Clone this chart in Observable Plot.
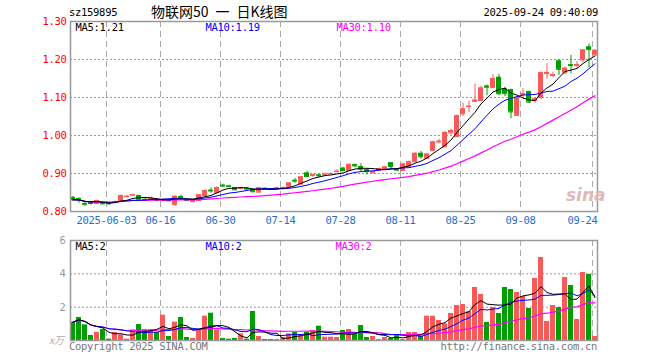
<!DOCTYPE html>
<html><head><meta charset="utf-8">
<script src="https://cdn.jsdelivr.net/npm/d3@7"></script>
<script src="https://cdn.jsdelivr.net/npm/@observablehq/plot@0.6"></script>
<style>
body{margin:0;background:#fff;}
#wrap{position:relative;width:660px;height:360px;overflow:hidden;background:#fff;}
.t{position:absolute;white-space:nowrap;font-family:"DejaVu Sans Mono",monospace;font-size:10.5px;letter-spacing:-0.3px;line-height:12px;}
.abs{position:absolute;left:0;}
</style></head>
<body><div id="wrap"></div>
<script>
const dates = ["05-23","05-26","05-27","05-28","05-29","05-30",
"06-03","06-04","06-05","06-06","06-09","06-10","06-11","06-12","06-13",
"06-16","06-17","06-18","06-19","06-20","06-23","06-24","06-25","06-26","06-27",
"06-30","07-01","07-02","07-03","07-04","07-07","07-08","07-09","07-10","07-11",
"07-14","07-15","07-16","07-17","07-18","07-21","07-22","07-23","07-24","07-25",
"07-28","07-29","07-30","07-31","08-01","08-04","08-05","08-06","08-07","08-08",
"08-11","08-12","08-13","08-14","08-15","08-18","08-19","08-20","08-21","08-22",
"08-25","08-26","08-27","08-28","08-29","09-01","09-02","09-03","09-04","09-05",
"09-08","09-09","09-10","09-11","09-12","09-15","09-16","09-17","09-18","09-19",
"09-22","09-23","09-24"];
const open = [.837,.834,.821,.823,.821,.822,.822,.824,.829,.839,.843,.842,.832,.833,.831,.829,.830,.818,.839,.831,.826,.829,.842,.856,.850,.869,.867,.863,.861,.861,.858,.851,.861,.859,.861,.861,.865,.882,.872,.901,.895,.896,.896,.899,.905,.914,.908,.923,.918,.910,.902,.908,.910,.928,.910,.908,.918,.931,.953,.940,.960,.983,.970,1.007,.997,1.057,1.076,1.090,1.092,1.130,1.126,1.153,1.122,1.120,1.053,1.108,1.115,1.092,1.100,1.163,1.158,1.196,1.165,1.186,1.184,1.199,1.233,1.212];
const high = [.840,.836,.824,.826,.830,.824,.823,.828,.843,.843,.846,.843,.834,.838,.833,.833,.832,.841,.843,.832,.831,.845,.857,.862,.865,.872,.869,.864,.864,.863,.859,.863,.862,.860,.864,.865,.876,.887,.892,.906,.898,.898,.901,.902,.910,.916,.925,.925,.926,.912,.906,.914,.918,.929,.912,.927,.933,.955,.958,.953,.985,.990,1.010,1.017,1.054,1.085,1.091,1.135,1.130,1.133,1.160,1.161,1.127,1.122,1.104,1.123,1.117,1.100,1.167,1.190,1.167,1.200,1.180,1.211,1.195,1.226,1.241,1.226];
const low = [.826,.822,.814,.817,.820,.818,.818,.822,.828,.836,.841,.828,.827,.830,.825,.827,.826,.813,.833,.826,.824,.828,.840,.848,.848,.864,.863,.855,.859,.857,.849,.848,.857,.856,.859,.860,.863,.874,.870,.890,.890,.890,.894,.897,.902,.905,.906,.915,.905,.896,.900,.907,.909,.912,.907,.906,.916,.929,.938,.938,.958,.978,.968,1.001,.995,1.050,1.060,1.088,1.090,1.105,1.124,1.105,1.102,1.044,1.050,1.098,1.084,1.085,1.095,1.148,1.152,1.158,1.160,1.162,1.177,1.192,1.178,1.210];
const close = [.831,.830,.819,.821,.829,.820,.820,.826,.842,.840,.844,.830,.830,.835,.829,.831,.828,.840,.837,.829,.829,.844,.855,.854,.863,.867,.866,.857,.862,.859,.852,.862,.859,.858,.862,.863,.875,.880,.891,.892,.897,.894,.898,.900,.906,.908,.924,.920,.911,.905,.905,.913,.917,.918,.909,.925,.931,.953,.944,.951,.983,.985,1.008,1.013,1.052,1.070,1.077,1.093,1.125,1.127,1.150,1.110,1.110,1.062,1.100,1.110,1.088,1.097,1.165,1.166,1.160,1.174,1.177,1.184,1.187,1.225,1.226,1.224];
const volume = [1.10,1.38,0.94,0.30,0.48,0.66,0.08,0.48,0.34,0.08,0.64,0.96,0.64,0.64,0.48,1.52,0.24,1.10,1.38,0.18,0.12,0.60,1.46,1.64,0.64,0.12,0.08,0.12,0.40,0.08,1.74,0.24,0.06,0.06,0.06,0.18,0.40,0.48,0.30,0.48,0.60,0.86,0.20,0.20,
0.18,0.60,0.66,0.36,0.90,0.18,0.24,0.06,0.18,0.12,0.36,0.06,0.48,0.48,0.24,1.46,1.46,1.20,1.00,1.62,2.10,2.16,1.74,3.18,2.76,1.08,1.98,1.62,3.18,3.06,2.88,2.64,1.92,3.72,4.98,1.14,2.10,1.98,3.78,3.30,1.26,4.08,3.96,0.24];
const xTicks = ["06-03","06-16","06-30","07-14","07-28","08-11","08-25","09-08","09-24"];
const priceTicks = [0.8,0.9,1.0,1.1,1.2,1.3];
const volTicks = [2,4,6];

const RED = "#f85a5a", GREEN = "#009e00";
function ma(arr, n){ return arr.map((_,i)=>{const s=arr.slice(Math.max(0,i-n+1),i+1); return d3.mean(s);}); }
const m5 = ma(close,5), m10 = ma(close,10), m30 = ma(close,30);
const v5 = ma(volume,5), v10 = ma(volume,10), v30 = ma(volume,30);
const rows = dates.map((d,i)=>({d,o:open[i],h:high[i],l:low[i],c:close[i],v:volume[i],up:close[i]>=open[i],
  m5:m5[i],m10:m10[i],m30:m30[i],v5:v5[i],v10:v10[i],v30:v30[i]}));
const col = d=>d.up?RED:GREEN;
const last = rows[rows.length-1];
const xOpt = {type:"band",domain:dates,paddingInner:0.17,paddingOuter:0,axis:null};
const style = {fontFamily:"DejaVu Sans Mono",fontSize:"10.5px",letterSpacing:"-0.3px",background:"transparent",overflow:"visible"};
const lastTick = xTicks[xTicks.length-1];
const fmtX = d=>d==="06-03"?"2025-06-03":d;

const main = Plot.plot({
  width:660,height:232,marginLeft:70,marginRight:63,marginTop:21,marginBottom:21,
  style, x:xOpt, y:{domain:[0.8,1.3],axis:null}, color:{type:"identity"},
  marks:[
    Plot.gridY([0.9,1.0,1.1,1.2],{stroke:"#999",strokeOpacity:1,strokeDasharray:"2,2"}),
    Plot.ruleX(xTicks,{x:d=>d,stroke:"#aaa",strokeDasharray:"6,4",dx:-2.5}),
    Plot.ruleX(rows,{x:"d",y1:"l",y2:"h",stroke:col}),
    Plot.barY(rows,{x:"d",y1:d=>Math.min(d.o,d.c),y2:d=>Math.max(d.o,d.c),fill:col}),
    Plot.tickY(rows,{x:"d",y:"c",stroke:col}),
    Plot.tickY(rows,{x:"d",y:"o",stroke:col}),
    Plot.lineY(rows,{x:"d",y:"m30",stroke:"#ff00ff",strokeWidth:1.2}),
    Plot.lineY(rows,{x:"d",y:"m10",stroke:"#0000ff",strokeWidth:1}),
    Plot.lineY(rows,{x:"d",y:"m5",stroke:"#000",strokeWidth:1}),
    Plot.axisY({ticks:priceTicks,tickFormat:d=>d.toFixed(2),tickSize:0,tickPadding:4,color:"#f00",label:null}),
    Plot.axisX({ticks:xTicks.slice(0,-1),tickFormat:fmtX,tickSize:0,tickPadding:5,color:"#1e6fd0",dx:-2.5,label:null}),
    Plot.axisX({ticks:[lastTick],tickFormat:fmtX,tickSize:0,tickPadding:5,color:"#1e6fd0",textAnchor:"end",dx:2.5,label:null}),
    Plot.frame({stroke:"#999",strokeWidth:1.5}),
    Plot.text([`MA5:${last.m5.toFixed(2)}`],{frameAnchor:"top-left",dx:5,dy:2,lineAnchor:"top",fill:"#000"}),
    Plot.text([`MA10:${last.m10.toFixed(2)}`],{frameAnchor:"top-left",dx:135,dy:2,lineAnchor:"top",fill:"#0000ff"}),
    Plot.text([`MA30:${last.m30.toFixed(2)}`],{frameAnchor:"top-left",dx:266,dy:2,lineAnchor:"top",fill:"#ff00ff"})
  ]
});

const vol = Plot.plot({
  width:660,height:128,marginLeft:70,marginRight:63,marginTop:8,marginBottom:20,
  style, x:xOpt, y:{domain:[0,6],axis:null}, color:{type:"identity"},
  marks:[
    Plot.gridY([2,4],{stroke:"#999",strokeOpacity:1,strokeDasharray:"2,2"}),
    Plot.ruleX(xTicks,{x:d=>d,stroke:"#aaa",strokeDasharray:"6,4",dx:-2.5}),
    Plot.barY(rows,{x:"d",y:"v",fill:col}),
    Plot.lineY(rows,{x:"d",y:"v30",stroke:"#ff00ff",strokeWidth:1.2}),
    Plot.lineY(rows,{x:"d",y:"v10",stroke:"#0000ff",strokeWidth:1}),
    Plot.lineY(rows,{x:"d",y:"v5",stroke:"#000",strokeWidth:1}),
    Plot.axisY({ticks:volTicks,tickFormat:d=>String(d),tickSize:0,tickPadding:5,color:"#999",label:null}),
    Plot.frame({stroke:"#999",strokeWidth:1.5}),
    Plot.text([`MA5:${Math.floor(last.v5)}`],{frameAnchor:"top-left",dx:5,dy:2,lineAnchor:"top",fill:"#000"}),
    Plot.text([`MA10:${Math.floor(last.v10)}`],{frameAnchor:"top-left",dx:135,dy:2,lineAnchor:"top",fill:"#0000ff"}),
    Plot.text([`MA30:${Math.floor(last.v30)}`],{frameAnchor:"top-left",dx:265,dy:2,lineAnchor:"top",fill:"#ff00ff"})
  ]
});

const wrap = document.getElementById("wrap");
main.classList.add("abs"); main.style.top="0px";
vol.classList.add("abs"); vol.style.top="232px";
wrap.appendChild(main); wrap.appendChild(vol);
function addText(txt, css, cls="t"){const d=document.createElement("div");d.className=cls;d.textContent=txt;Object.assign(d.style,css);wrap.appendChild(d);return d;}
addText("sz159895",{left:"69px",top:"6px",color:"#000"});
addText("物联网50\u2002一\u2002日K线图",{left:"151px",top:"3px",fontFamily:"'Noto Sans CJK SC',sans-serif",fontSize:"14px",letterSpacing:"0px",lineHeight:"16px",color:"#000"});
addText("2025-09-24 09:40:09",{right:"62px",top:"6px",color:"#000"});
addText("x万",{left:"49px",top:"334px",color:"#aaa",fontStyle:"italic",fontFamily:"'Noto Sans CJK SC',sans-serif",fontSize:"10px",letterSpacing:"0px"});
addText("Copyright 2025 SINA.COM",{left:"69px",top:"340px",color:"#777"});
addText("http://finance.sina.com.cn",{right:"63px",top:"340px",color:"#777"});
addText("sina",{left:"566px",top:"185px",color:"#dcbaba",fontFamily:"'DejaVu Sans',sans-serif",fontStyle:"italic",fontWeight:"bold",fontSize:"17px",letterSpacing:"0px",lineHeight:"20px"});
</script></body></html>
